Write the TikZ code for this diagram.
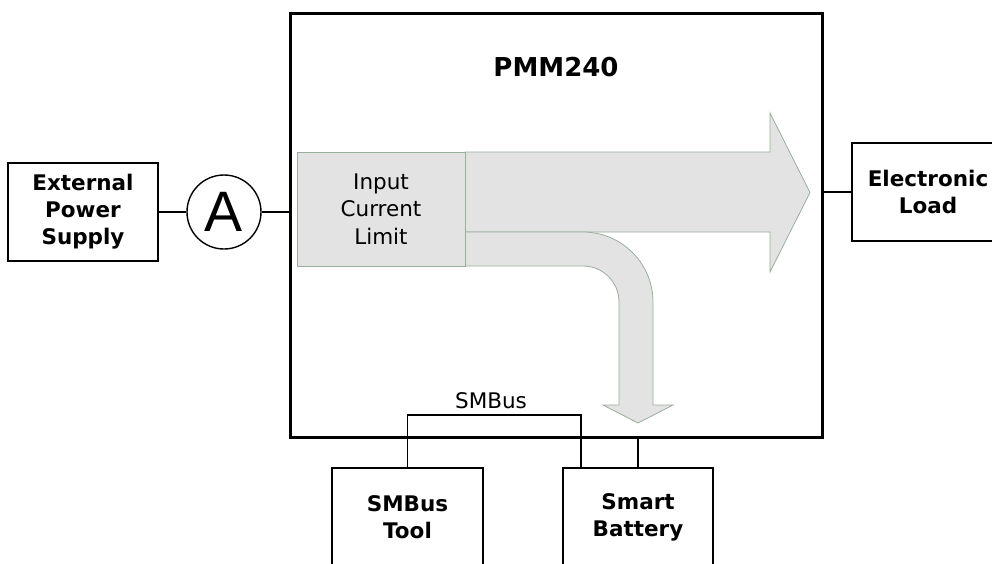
\documentclass[tikz,border=0pt]{standalone}
\usepackage{fontspec}
\setmainfont{DejaVu Sans}
\newfontfamily\ammfont{Liberation Sans}
\definecolor{arrfill}{HTML}{E3E3E3}
\definecolor{arrline}{HTML}{9AAE9D}
\tikzset{
  blk/.style={draw=black, line width=1.9pt, align=center, inner sep=0pt,
    font=\fontsize{21.5}{27}\selectfont\bfseries},
  conn/.style={draw=black, line width=1.9pt},
  flow/.style={fill=arrfill, draw=arrline, line width=0.8pt},
}
\begin{document}
\begin{tikzpicture}[x=1pt,y=-1pt]
\useasboundingbox (0,0) rectangle (992,563);
\clip (0,0) rectangle (992,563);
% main module
\node[draw=black, line width=3pt, minimum width=532pt, minimum height=424pt, inner sep=0pt] (pmm) at (556,225) {};
\node[font=\fontsize{26}{30}\selectfont\bfseries] (title) at (556,67) {PMM240};
% flow arrows
\path[flow] (465,152) -- (770,152) -- (770,113) -- (810,192.5) -- (770,272) -- (770,232) -- (465,232) -- cycle;
\path[flow] (465,232) -- (583,232) .. controls (621.6,232) and (653,263.4) .. (653,302)
  -- (653,405) -- (673,405) -- (638,423) -- (603,405) -- (619,405) -- (619,302)
  .. controls (619,282.1) and (602.9,266) .. (583,266) -- (465,266) -- cycle;
\node[flow, minimum width=168pt, minimum height=114pt, inner sep=0pt, align=center,
  font=\fontsize{21.5}{27.5}\selectfont] (icl) at (381,209) {Input\\Current\\Limit};
% external supply and ammeter
\node[blk, minimum width=150pt, minimum height=98pt] (eps) at (83,212) {External\\Power\\Supply};
\node[draw=black, line width=1.4pt, circle, minimum size=74pt, inner sep=0pt,
  font=\fontsize{57}{57}\selectfont\ammfont] (amm) at (224,212) {A};
\draw[conn] (eps.east) -- (amm.west);
\draw[conn] (amm.east) -- (amm.east -| pmm.west);
% electronic load
\node[blk, minimum width=152pt, minimum height=98pt] (load) at (928,192) {Electronic\\Load};
\draw[conn] (load.west -| pmm.east) -- (load.west);
% bottom boxes
\node[blk, minimum width=151pt, minimum height=98pt] (tool) at (407.5,517) {SMBus\\Tool};
\node[blk, minimum width=150pt, minimum height=98pt] (batt) at (638,517) {Smart\\Battery};
\coordinate (busL) at (407.5,415);
\coordinate (busR) at (581,415);
\draw[conn] (tool.north) -- (busL) -- (busR) -- (busR |- batt.north);
\draw[conn] (batt.north) -- (batt.north |- pmm.south);
\node[font=\fontsize{21.5}{25}\selectfont] (smb) at (491,401) {SMBus};
\end{tikzpicture}
\end{document}
